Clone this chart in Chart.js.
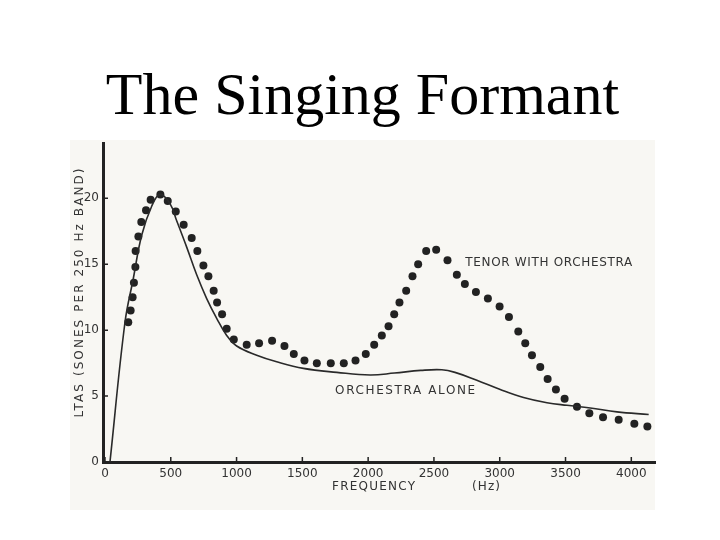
<!DOCTYPE html>
<html>
<head>
<meta charset="utf-8">
<script src="https://cdn.jsdelivr.net/npm/chart.js@4.4.0/dist/chart.umd.min.js"></script>
<style>
  html, body { margin: 0; padding: 0; background: #fff; }
  #wrap { width: 720px; height: 540px; }
</style>
</head>
<body>
<div id="wrap"><canvas id="chart" width="720" height="540"></canvas></div>
<script>
// Tenor with orchestra (dots)
const tenorFreq = [177, 195, 210, 220, 231, 233, 254, 276, 312, 347, 421, 477, 538, 598, 659, 702, 748, 786, 826, 852,
  890, 925, 979, 1077, 1171, 1270, 1364, 1435, 1516, 1610, 1716, 1815, 1904, 1982, 2046, 2104, 2155, 2198, 2238,
  2289, 2337, 2380, 2441, 2517, 2603, 2674, 2735, 2819, 2910, 2999, 3070, 3141, 3194, 3245, 3308, 3364, 3427,
  3493, 3587, 3681, 3785, 3904, 4023, 4122];
const tenorLtas = [10.6, 11.5, 12.5, 13.6, 14.8, 16.0, 17.1, 18.2, 19.1, 19.9, 20.3, 19.8, 19.0, 18.0, 17.0, 16.0, 14.9, 14.1, 13.0, 12.1,
  11.2, 10.1, 9.3, 8.9, 9.0, 9.2, 8.8, 8.2, 7.7, 7.5, 7.5, 7.5, 7.7, 8.2, 8.9, 9.6, 10.3, 11.2, 12.1,
  13.0, 14.1, 15.0, 16.0, 16.1, 15.3, 14.2, 13.5, 12.9, 12.4, 11.8, 11.0, 9.9, 9.0, 8.1, 7.2, 6.3, 5.5,
  4.8, 4.2, 3.7, 3.4, 3.2, 2.9, 2.7];

// Orchestra alone (solid line)
const orchFreq = [38, 152, 215, 279, 355, 418, 494, 545, 621, 697, 773, 849, 925, 1001, 1153, 1305, 1508, 1762,
  2015, 2200, 2400, 2560, 2660, 2826, 3004, 3181, 3359, 3511, 3688, 3891, 4132];
const orchLtas = [0, 10.6, 13.9, 17.2, 19.4, 20.3, 19.6, 18.3, 16.3, 14.2, 12.4, 10.9, 9.6, 8.8, 8.1, 7.6, 7.1, 6.8,
  6.6, 6.75, 6.95, 7.0, 6.8, 6.2, 5.5, 4.9, 4.5, 4.3, 4.1, 3.8, 3.6];

const xTicks = [0, 500, 1000, 1500, 2000, 2500, 3000, 3500, 4000];
const yTicks = [0, 5, 10, 15, 20];

const ink = '#222';

// fits a label to a given width by spreading the letters
function spacedText(ctx, txt, x, y, w, font, align) {
  ctx.font = font;
  ctx.letterSpacing = '0px';
  const m = ctx.measureText(txt).width;
  const ls = Math.max(0, (w - m) / (txt.length - 1));
  ctx.letterSpacing = ls + 'px';
  ctx.textAlign = align || 'left';
  ctx.fillText(txt, x, y);
}

const paperPlugin = {
  id: 'paper',
  beforeDraw(chart) {
    const ctx = chart.ctx;
    ctx.save();
    ctx.fillStyle = '#f8f7f3';
    ctx.fillRect(70, 140, 585, 370);
    ctx.restore();
  }
};

// small tick marks pointing into the plot, like the original figure
const innerTicksPlugin = {
  id: 'innerTicks',
  afterDraw(chart) {
    const ctx = chart.ctx;
    const { x: sx, y: sy } = chart.scales;
    const area = chart.chartArea;
    ctx.save();
    ctx.strokeStyle = ink;
    ctx.lineWidth = 1.5;
    ctx.beginPath();
    xTicks.forEach(v => {
      const px = sx.getPixelForValue(v);
      ctx.moveTo(px, area.bottom);
      ctx.lineTo(px, area.bottom - 5);
    });
    yTicks.forEach(v => {
      const py = sy.getPixelForValue(v);
      ctx.moveTo(area.left, py);
      ctx.lineTo(area.left + 5, py);
    });
    ctx.stroke();
    ctx.restore();
  }
};

const labelsPlugin = {
  id: 'labels',
  afterDatasetsDraw(chart) {
    const ctx = chart.ctx;
    const sx = chart.scales.x, sy = chart.scales.y;
    ctx.save();
    ctx.fillStyle = '#333';
    ctx.textBaseline = 'middle';
    spacedText(ctx, 'TENOR WITH ORCHESTRA', sx.getPixelForValue(2738), sy.getPixelForValue(15.1), 167, '12px "DejaVu Sans"');
    spacedText(ctx, 'ORCHESTRA ALONE', sx.getPixelForValue(1749), sy.getPixelForValue(5.4), 140, '12px "DejaVu Sans"');
    spacedText(ctx, 'FREQUENCY', 332, 487, 83, '12px "DejaVu Sans"');
    spacedText(ctx, '(Hz)', 472, 487, 28, '12px "DejaVu Sans"');
    ctx.translate(80, 292);
    ctx.rotate(-Math.PI / 2);
    spacedText(ctx, 'LTAS (SONES PER 250 Hz BAND)', 0, 0, 249, '12px "DejaVu Sans"', 'center');
    ctx.restore();
  }
};

new Chart(document.getElementById('chart'), {
  type: 'scatter',
  data: {
    datasets: [
      {
        label: 'Orchestra alone',
        data: orchFreq.map((f, i) => ({ x: f, y: orchLtas[i] })),
        showLine: true,
        borderColor: '#2a2a2a',
        borderWidth: 1.6,
        tension: 0.4,
        pointRadius: 0
      },
      {
        label: 'Tenor with orchestra',
        data: tenorFreq.map((f, i) => ({ x: f, y: tenorLtas[i] })),
        showLine: false,
        pointRadius: 4,
        pointBackgroundColor: ink,
        pointBorderColor: ink,
        pointBorderWidth: 0
      }
    ]
  },
  options: {
    responsive: false,
    animation: false,
    devicePixelRatio: 1,
    layout: { padding: { left: 70, right: 65, top: 0, bottom: 30 } },
    plugins: {
      legend: { display: false },
      tooltip: { enabled: false },
      title: {
        display: true,
        text: 'The Singing Formant',
        color: '#000',
        font: { family: '"Liberation Serif", "Times New Roman", serif', size: 60, weight: 'normal' },
        padding: { top: 62, bottom: 9 }
      }
    },
    scales: {
      x: {
        type: 'linear',
        min: -15,
        max: 4180,
        afterBuildTicks: s => { s.ticks = xTicks.map(v => ({ value: v })); },
        afterFit: s => { s.height = 48; },
        grid: { drawOnChartArea: false, drawTicks: false },
        border: { display: true, color: ink, width: 3 },
        ticks: {
          color: '#333', padding: 5, maxRotation: 0,
          font: { family: '"DejaVu Sans"', size: 12 },
          callback: v => String(v)
        }
      },
      y: {
        type: 'linear',
        min: 0,
        max: 24.2,
        afterBuildTicks: s => { s.ticks = yTicks.map(v => ({ value: v })); },
        afterFit: s => { s.width = 33; },
        grid: { drawOnChartArea: false, drawTicks: false },
        border: { display: true, color: ink, width: 3 },
        ticks: {
          color: '#333', padding: 4,
          font: { family: '"DejaVu Sans"', size: 12 },
          callback: v => String(v)
        }
      }
    }
  },
  plugins: [paperPlugin, innerTicksPlugin, labelsPlugin]
});
</script>
</body>
</html>
